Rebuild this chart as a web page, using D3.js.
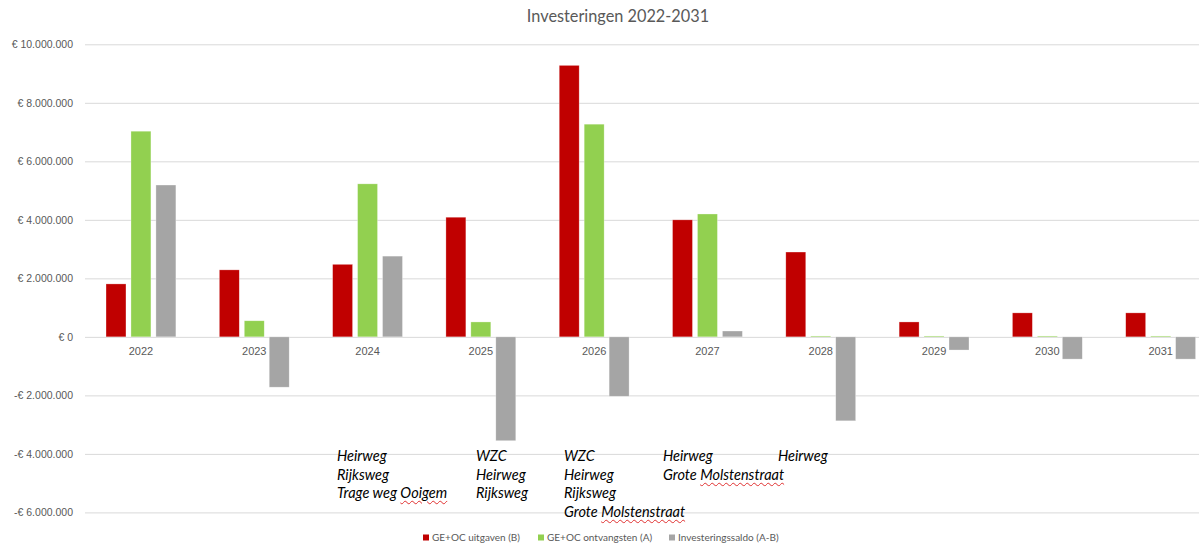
<!DOCTYPE html>
<html>
<head>
<meta charset="utf-8">
<script src="https://cdn.jsdelivr.net/npm/d3@7"></script>
<style>
  body { margin: 0; background: #fff; }
  #chart { position: relative; width: 1199px; height: 543px; overflow: hidden; }
  .note { position: absolute; font-family: Lato, "Open Sans", sans-serif; font-style: italic;
          font-size: 14.5px; line-height: 18.5px; color: #000; white-space: nowrap; }
  .sp { text-decoration: underline wavy #e03030; text-decoration-thickness: 1px; text-underline-offset: 2px; }
</style>
</head>
<body>
<div id="chart"></div>
<script>
const width = 1199;
const height = 543;
const title = 'Investeringen 2022-2031';

const years = ['2022','2023','2024','2025','2026','2027','2028','2029','2030','2031'];
const seriesNames = ['GE+OC uitgaven (B)', 'GE+OC ontvangsten (A)', 'Investeringssaldo (A-B)'];
const colors = ['#C00000', '#92D050', '#A5A5A5'];

const uitgaven    = [1810000, 2290000, 2480000, 4090000, 9280000, 4000000, 2900000, 510000, 820000, 820000];
const ontvangsten = [7030000, 550000, 5230000, 510000, 7270000, 4200000, 30000, 30000, 30000, 30000];
const saldo       = [5190000, -1720000, 2760000, -3550000, -2030000, 200000, -2870000, -450000, -760000, -760000];

const yTicks = [10000000, 8000000, 6000000, 4000000, 2000000, 0, -2000000, -4000000, -6000000];

// notes under the bars
const notes = [
  {year: '2024', lines: ['Heirweg', 'Rijksweg', 'Trage weg <span class="sp">Ooigem</span>']},
  {year: '2025', lines: ['WZC', 'Heirweg', 'Rijksweg']},
  {year: '2026', lines: ['WZC', 'Heirweg', 'Rijksweg', 'Grote <span class="sp">Molstenstraat</span>']},
  {year: '2027', lines: ['Heirweg', 'Grote <span class="sp">Molstenstraat</span>']},
  {year: '2028', lines: ['Heirweg']}
];

const data = years.map((y, i) => ({year: y, values: [uitgaven[i], ontvangsten[i], saldo[i]]}));

const chart = d3.select('#chart');
const svg = chart.append('svg')
  .attr('width', width)
  .attr('height', height)
  .style('font-family', 'Lato, "Open Sans", sans-serif');

const x0 = d3.scaleBand()
  .domain(years)
  .range([84.3, 84.3 + 113.3 * years.length]);

const x1 = d3.scaleBand()
  .domain(d3.range(3))
  .range([0, x0.bandwidth()])
  .paddingInner(0.2)
  .paddingOuter(0.87);

const y = d3.scaleLinear()
  .domain([-6000000, 10000000])
  .range([512.4, 44.3]);

const locale = d3.formatLocale({decimal: ',', thousands: '.', grouping: [3], currency: ['€ ', ''], minus: '-'});
const fmt = locale.format('$,.0f');

// title
svg.append('text')
  .attr('x', 618)
  .attr('y', 22)
  .attr('text-anchor', 'middle')
  .attr('fill', '#595959')
  .style('font-size', '16.3px')
  .text(title);

// grid + y axis
const yAxis = svg.append('g')
  .attr('transform', 'translate(85,0)')
  .call(d3.axisLeft(y).tickValues(yTicks).tickFormat(fmt).tickSize(-(width - 85)).tickPadding(12));
yAxis.select('.domain').remove();
yAxis.selectAll('line').attr('stroke', '#d9d9d9').attr('stroke-width', 1);
yAxis.selectAll('text').attr('fill', '#595959').style('font-size', '10.5px');

// bars
const groups = svg.append('g')
  .selectAll('g')
  .data(data)
  .join('g')
  .attr('transform', d => `translate(${x0(d.year)},0)`);

groups.selectAll('rect')
  .data(d => d.values.map((v, i) => ({i, v})))
  .join('rect')
  .attr('x', d => x1(d.i))
  .attr('width', x1.bandwidth())
  .attr('y', d => y(Math.max(0, d.v)))
  .attr('height', d => Math.abs(y(d.v) - y(0)))
  .attr('fill', d => colors[d.i])
  .attr('stroke', '#fff')
  .attr('stroke-opacity', 0.5)
  .attr('stroke-width', 0.6);

// x axis labels
const xAxis = svg.append('g')
  .attr('transform', `translate(0,${y(0)})`)
  .call(d3.axisBottom(x0).tickSize(0).tickPadding(10));
xAxis.select('.domain').remove();
xAxis.selectAll('text').attr('fill', '#595959').style('font-size', '11px');

// legend
const legendX = [423, 538, 669];
const legend = svg.append('g')
  .selectAll('g')
  .data(seriesNames)
  .join('g')
  .attr('transform', (d, i) => `translate(${legendX[i]},538)`);
legend.append('rect')
  .attr('x', 0).attr('y', -3.5)
  .attr('width', 6).attr('height', 6)
  .attr('fill', (d, i) => colors[i]);
legend.append('text')
  .attr('x', 9)
  .attr('dy', '0.32em')
  .attr('fill', '#595959')
  .style('font-size', '10px')
  .text(d => d);

// notes
const noteLeft = {'2024': 337, '2025': 476, '2026': 564, '2027': 663, '2028': 778};
chart.selectAll('div.note')
  .data(notes)
  .join('div')
  .attr('class', 'note')
  .style('left', d => noteLeft[d.year] + 'px')
  .style('top', '447px')
  .html(d => d.lines.join('<br>'));
</script>
</body>
</html>
